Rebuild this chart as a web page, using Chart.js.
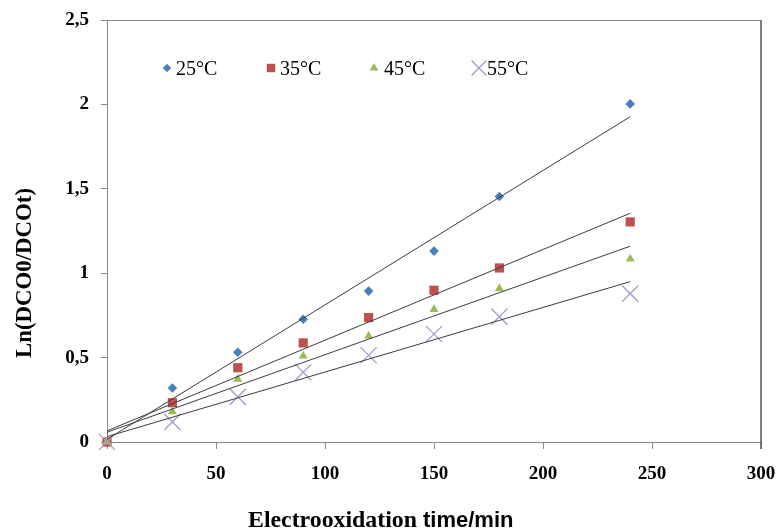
<!DOCTYPE html>
<html><head><meta charset="utf-8">
<script src="https://cdn.jsdelivr.net/npm/chart.js@4/dist/chart.umd.min.js"></script>
<style>html,body{margin:0;padding:0;background:#fff}#wrap{width:779px;height:531px;position:relative}</style>
</head><body><div id="wrap"><canvas id="c" width="779" height="531"></canvas></div>
<script>
// ---- data ----
const times = [0, 30, 60, 90, 120, 150, 180, 240];
const seriesLabels = ['25°C', '35°C', '45°C', '55°C'];
const y25 = [0, 0.32, 0.532, 0.727, 0.894, 1.131, 1.454, 2.003];
const y35 = [0, 0.233, 0.440, 0.587, 0.737, 0.899, 1.031, 1.304];
const y45 = [0, 0.180, 0.373, 0.510, 0.628, 0.786, 0.909, 1.085];
const y55 = [0, 0.119, 0.267, 0.413, 0.514, 0.640, 0.743, 0.879];
const trendX = [0, 240];
const trendStart = [0.016, 0.066, 0.058, 0.032];
const trendEnd = [1.927, 1.355, 1.160, 0.950];
const xTickValues = [0, 50, 100, 150, 200, 250, 300];
const yTickLabels = ['0', '0,5', '1', '1,5', '2', '2,5'];
const xTitleParts = ['Electrooxidation', 'time/min'];
const yTitle = 'Ln(DCO0/DCOt)';

// ---- styles ----
const SERIF = '"Liberation Serif", "Times New Roman", serif';
const colors = ['#4a7ebb', '#c0504d', '#9bbb59', '#a898cc'];
const shapes = ['rectRot', 'rect', 'triangle', 'crossRot'];
const radii = [4.8, 6.5, 5.2, 11.5];
const seriesValues = [y25, y35, y45, y55];

const datasets = [];
seriesValues.forEach((vals, i) => {
  datasets.push({
    label: seriesLabels[i],
    data: times.map((t, k) => ({x: t, y: vals[k]})),
    showLine: false,
    pointStyle: shapes[i],
    pointRadius: radii[i],
    pointHoverRadius: radii[i],
    backgroundColor: colors[i],
    borderColor: colors[i],
    pointBorderWidth: i === 3 ? 1.3 : 0,
    clip: false,
    order: 4 - i
  });
});
seriesValues.forEach((vals, i) => {
  datasets.push({
    label: 'trend ' + seriesLabels[i],
    data: [{x: trendX[0], y: trendStart[i]}, {x: trendX[1], y: trendEnd[i]}],
    showLine: true,
    borderColor: '#3c3c3c',
    borderWidth: 1,
    pointRadius: 0,
    fill: false,
    order: 0
  });
});

function drawMarker(ctx, shape, x, y, r, color) {
  ctx.save();
  ctx.fillStyle = color; ctx.strokeStyle = color;
  ctx.beginPath();
  if (shape === 'rectRot') {
    ctx.moveTo(x, y - r); ctx.lineTo(x + r, y); ctx.lineTo(x, y + r); ctx.lineTo(x - r, y); ctx.closePath(); ctx.fill();
  } else if (shape === 'rect') {
    const s = r * Math.SQRT1_2; ctx.rect(x - s, y - s, 2 * s, 2 * s); ctx.fill();
  } else if (shape === 'triangle') {
    ctx.moveTo(x, y - r); ctx.lineTo(x + r * 0.866, y + r * 0.5); ctx.lineTo(x - r * 0.866, y + r * 0.5); ctx.closePath(); ctx.fill();
  } else {
    const s = r * Math.SQRT1_2; ctx.lineWidth = 1.3;
    ctx.moveTo(x - s, y - s); ctx.lineTo(x + s, y + s); ctx.moveTo(x + s, y - s); ctx.lineTo(x - s, y + s); ctx.stroke();
  }
  ctx.restore();
}

const deco = {
  id: 'deco',
  beforeDatasetsDraw(chart) {
    const {ctx, chartArea: a} = chart;
    ctx.save();
    ctx.lineWidth = 1;
    ctx.strokeStyle = '#8a8a8a';
    ctx.beginPath(); ctx.moveTo(a.left, a.top + 0.5); ctx.lineTo(a.right, a.top + 0.5); ctx.stroke();
    ctx.strokeStyle = '#555';
    ctx.lineWidth = 1.5;
    ctx.beginPath(); ctx.moveTo(a.right, a.top); ctx.lineTo(a.right, a.bottom + 7); ctx.stroke();
    ctx.restore();
  },
  afterDraw(chart) {
    const ctx = chart.ctx;
    ctx.save();
    // legend
    const legMarkX = [167, 271, 374, 479];
    const legTextX = [176, 280, 384, 487];
    const legY = 68;
    ctx.font = '20px ' + SERIF;
    ctx.fillStyle = '#000';
    ctx.textBaseline = 'alphabetic';
    ctx.textAlign = 'left';
    seriesLabels.forEach((lab, i) => {
      const r = i === 3 ? 10.5 : (i === 1 ? 6 : (i === 0 ? 4.3 : 5));
      drawMarker(ctx, shapes[i], legMarkX[i], legY, r, colors[i]);
      ctx.fillStyle = '#000';
      ctx.fillText(lab, legTextX[i], 75);
    });
    // x title
    ctx.font = 'bold 24px ' + SERIF;
    ctx.fillText(xTitleParts[0], 248, 527, 169);
    ctx.font = 'bold 22px "Liberation Sans Narrow", "Liberation Sans", sans-serif';
    ctx.fillText(xTitleParts[1], 423, 527, 100);
    // y title
    ctx.translate(31, 273);
    ctx.rotate(-Math.PI / 2);
    ctx.textAlign = 'center';
    ctx.font = 'bold 23px ' + SERIF;
    ctx.fillText(yTitle, 0, 0, 170);
    ctx.restore();
  }
};

new Chart(document.getElementById('c'), {
  type: 'scatter',
  data: {datasets},
  plugins: [deco],
  options: {
    responsive: false,
    animation: false,
    devicePixelRatio: 1,
    layout: {padding: {left: 0, right: 18, top: 20, bottom: 0}},
    plugins: {legend: {display: false}, tooltip: {enabled: false}, title: {display: false}},
    scales: {
      x: {
        type: 'linear', min: 0, max: 300,
        afterBuildTicks: s => { s.ticks = xTickValues.map(v => ({value: v})); },
        afterFit: s => { s.height = 89; s.paddingLeft = 0; s.paddingRight = 0; },
        ticks: {color: '#000', padding: 14, font: {family: SERIF, size: 19, weight: 'bold'}},
        grid: {drawOnChartArea: false, drawTicks: true, tickLength: 7, color: '#8a8a8a'},
        border: {display: true, color: '#8a8a8a', width: 1}
      },
      y: {
        type: 'linear', min: 0, max: 2.5,
        afterBuildTicks: s => { s.ticks = yTickLabels.map((t, k) => ({value: k * 0.5})); },
        afterFit: s => { s.width = 107; s.paddingTop = 0; s.paddingBottom = 0; },
        ticks: {color: '#000', padding: 12, font: {family: SERIF, size: 19, weight: 'bold'},
          callback: (v, idx) => yTickLabels[idx]},
        grid: {drawOnChartArea: false, drawTicks: true, tickLength: 6, color: '#8a8a8a'},
        border: {display: true, color: '#8a8a8a', width: 1}
      }
    }
  }
});
</script>
</body></html>
